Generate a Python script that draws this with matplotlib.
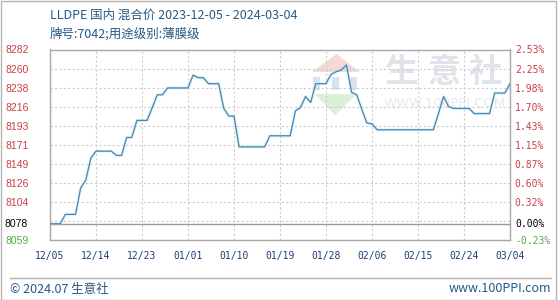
import numpy as np
import matplotlib
matplotlib.use("Agg")
import matplotlib.pyplot as plt
import matplotlib.transforms as mtransforms
from matplotlib.patches import Polygon, Rectangle

# daily mixed price, 2023-12-05 .. 2024-03-04 (91 days)
prices = [8078, 8078, 8078, 8089, 8089, 8089, 8120, 8129, 8155, 8163,
          8163, 8163, 8163, 8158, 8158, 8179, 8179, 8199, 8199, 8199,
          8214, 8229, 8229, 8237, 8237, 8237, 8237, 8237, 8252, 8249,
          8249, 8242, 8242, 8242, 8213, 8204, 8204, 8168, 8168, 8168,
          8168, 8168, 8168, 8181, 8181, 8181, 8181, 8181, 8210, 8214,
          8227, 8220, 8242, 8242, 8242, 8253, 8256, 8258, 8264, 8232,
          8229, 8212, 8196, 8195, 8188, 8188, 8188, 8188, 8188, 8188,
          8188, 8188, 8188, 8188, 8188, 8188, 8207, 8227, 8215, 8213,
          8213, 8213, 8213, 8207, 8207, 8207, 8207, 8231, 8231, 8231,
          8242]
days = np.arange(len(prices))

base_price = 8078
y_min, y_max = 8059, 8282
left_labels = ["8059", "", "8104", "8126", "8149", "8171", "8193",
               "8216", "8238", "8260", "8282"]
right_labels = ["-0.23%", "", "0.32%", "0.60%", "0.87%", "1.15%", "1.43%",
                "1.70%", "1.98%", "2.25%", "2.53%"]
x_ticks = [0, 9, 18, 27, 36, 45, 54, 63, 72, 81, 90]
x_labels = ["12/05", "12/14", "12/23", "01/01", "01/10", "01/19",
            "01/28", "02/06", "02/15", "02/24", "03/04"]

title = "LLDPE 国内 混合价 2023-12-05 - 2024-03-04"
subtitle = "牌号:7042;用途级别:薄膜级"

RED = "#cc3d4a"
GREEN = "#55aa4a"
BLUE_TXT = "#255a86"
CJK = ["Noto Sans CJK SC", "DejaVu Sans"]

fig = plt.figure(figsize=(5.6, 3.0), dpi=100)
fig.patch.set_facecolor("white")
ax = fig.add_axes([50 / 560, 60 / 300, 460 / 560, 190.5 / 300])

# watermark
for wx, ch in zip((0.764, 0.857, 0.946), "生意社"):
    ax.text(wx, 0.878, ch, transform=ax.transAxes, fontsize=24, color="#e2e2ea",
            ha="center", va="center", family=CJK, fontweight="bold", zorder=0)
ax.text(0.857, 0.715, "WWW.100PPI.COM", transform=ax.transAxes, fontsize=9.5,
        color="#e8e8ee", ha="center", va="center", zorder=0)


def px(x, y):
    # figure pixel -> axes fraction
    return ((x - 50) / 460, (240 - y) / 190.5)


ax.add_patch(Polygon([px(312, 72), px(336.5, 54), px(360, 72)], closed=True,
                     transform=ax.transAxes, facecolor="#f6d9d6", edgecolor="none", zorder=0))
for bx in (313, 332, 350):
    x0, y0 = px(bx, 90)
    x1, y1 = px(bx + 6.5, 77)
    ax.add_patch(Rectangle((x0, y0), x1 - x0, y1 - y0, transform=ax.transAxes,
                           facecolor="#d9e2f3", edgecolor="none", zorder=0))
ax.add_patch(Polygon([px(315, 94), px(357, 94), px(335, 115)], closed=True,
                     transform=ax.transAxes, facecolor="#dcefd9", edgecolor="none", zorder=0))

ax.plot(days, prices, color="#d2eaf5", lw=2.4, alpha=0.45, zorder=2)
ax.plot(days, prices, color="#4689b3", lw=0.95, zorder=3)
ax.axhline(base_price, color="#999999", lw=1.0, zorder=1)

ax.set_xlim(0, 90)
ax.set_ylim(y_min, y_max)
y_ticks = np.linspace(y_min, y_max, 11)
ax.set_yticks(y_ticks, left_labels)
ax.set_xticks(x_ticks, x_labels)
ax.grid(True, color="#cccccc", ls=(0, (2, 2)), lw=0.8)
ax.set_axisbelow(True)
ax.tick_params(axis="y", length=0, pad=15, labelsize=7.5, labelcolor=RED)
ax.tick_params(axis="x", length=0, pad=8, labelsize=7, labelcolor="#1f4070")
for lab in ax.get_yticklabels():
    lab.set_family("Liberation Sans")
for lab in ax.get_xticklabels():
    lab.set_family("DejaVu Sans Mono")
ax.get_yticklabels()[0].set_color(GREEN)
for s in ax.spines.values():
    s.set_color("#a8a8a8")
    s.set_linewidth(1.0)

ax2 = ax.twinx()
ax2.set_ylim(y_min, y_max)
ax2.set_yticks(y_ticks, right_labels)
ax2.tick_params(axis="y", length=0, pad=3.5, labelsize=7, labelcolor=RED)
for lab in ax2.get_yticklabels():
    lab.set_family("DejaVu Sans Mono")
ax2.get_yticklabels()[0].set_color(GREEN)
for s in ax2.spines.values():
    s.set_visible(False)

trans = mtransforms.blended_transform_factory(ax.transAxes, ax.transData)
ax.text(-22 / 460, base_price, str(base_price), transform=trans, ha="right",
        va="center", fontsize=7.5, color="black", family="Liberation Sans")
ax.text(1 + 5 / 460, base_price, "0.00%", transform=trans, ha="left",
        va="center", fontsize=7, color="black", family="DejaVu Sans Mono")

fig.text(50 / 560, 1 - 15 / 300, title, fontsize=9, color=BLUE_TXT,
         family=CJK, ha="left", va="center")
fig.text(50 / 560, 1 - 34 / 300, subtitle, fontsize=9, color=BLUE_TXT,
         family=CJK, ha="left", va="center")

# footer
fig.add_artist(plt.Line2D([10 / 560, 551 / 560], [1 - 278 / 300, 1 - 278 / 300],
                          color="#b4b4b4", lw=1.0))
fig.text(10 / 560, 1 - 289 / 300, "© 2024.07 生意社", fontsize=9, color=BLUE_TXT,
         family=CJK, ha="left", va="center")
fig.text(551 / 560, 1 - 289 / 300, "www.100PPI.com", fontsize=9, color=BLUE_TXT,
         family=CJK, ha="right", va="center")
fig.add_artist(Rectangle((0.5 / 560, 0.5 / 300), 555 / 560, 298.5 / 300,
                         transform=fig.transFigure, fill=False,
                         edgecolor="#b4b4b4", lw=1.0))

fig.savefig("out.png", dpi=100, facecolor="white")
